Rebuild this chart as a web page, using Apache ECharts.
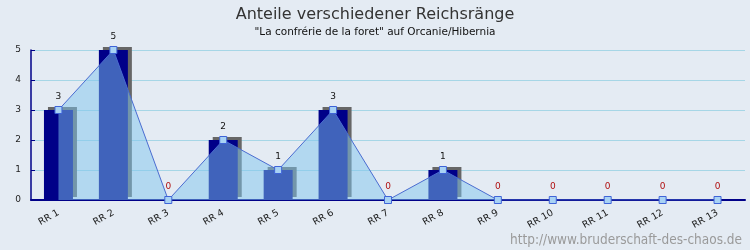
<!DOCTYPE html>
<html>
<head>
<meta charset="utf-8">
<script src="https://cdn.jsdelivr.net/npm/echarts@6/dist/echarts.min.js"></script>
<style>
  html, body { margin: 0; padding: 0; background: #e4ebf3; }
  #chart { width: 750px; height: 250px; }
</style>
</head>
<body>
<div id="chart"></div>
<script>
var titleText = 'Anteile verschiedener Reichsränge';
var subText = '"La confrérie de la foret" auf Orcanie/Hibernia';
var ranks = ['RR 1', 'RR 2', 'RR 3', 'RR 4', 'RR 5', 'RR 6', 'RR 7', 'RR 8', 'RR 9', 'RR 10', 'RR 11', 'RR 12', 'RR 13'];
var counts = [3, 5, 0, 2, 1, 3, 0, 1, 0, 0, 0, 0, 0];
var yTicks = { min: 0, max: 5, interval: 1 };
var siteUrl = 'http://www.bruderschaft-des-chaos.de';

(function() {
  var font = 'DejaVu Sans';
  var navy = '#000088';
  var lineData = counts.map(function(v) {
    return {
      value: v,
      label: { color: v === 0 ? '#b01010' : '#111' }
    };
  });

  var chart = echarts.init(document.getElementById('chart'), null, { renderer: 'canvas' });
  chart.setOption({
    animation: false,
    backgroundColor: '#e4ebf3',
    title: {
      text: titleText,
      subtext: subText,
      left: 'center',
      top: 2,
      itemGap: 4,
      textStyle: { fontFamily: font, fontSize: 16, fontWeight: 'normal', color: '#333' },
      subtextStyle: { fontFamily: font, fontSize: 10.5, color: '#111' }
    },
    graphic: [{
      type: 'text',
      right: 8,
      bottom: 3,
      style: { text: siteUrl, fill: '#9a9a9a', font: '13.5px "DejaVu Sans Condensed", "DejaVu Sans"' }
    }],
    grid: { left: 31, right: 5, top: 50, bottom: 50 },
    xAxis: {
      type: 'category',
      data: ranks,
      axisLine: { lineStyle: { color: navy, width: 2 } },
      axisTick: { inside: true, length: 5, lineStyle: { color: navy } },
      axisLabel: { rotate: 30, fontFamily: font, fontSize: 9.5, color: '#1a1a1a', margin: 12, interval: 0 },
      splitLine: { show: false }
    },
    yAxis: {
      type: 'value',
      min: yTicks.min,
      max: yTicks.max,
      interval: yTicks.interval,
      axisLine: { show: true, lineStyle: { color: navy, width: 1.5 } },
      axisTick: { show: true, inside: true, length: 4, lineStyle: { color: navy } },
      axisLabel: { fontFamily: font, fontSize: 9, color: '#222', margin: 10 },
      splitLine: { lineStyle: { color: '#a6d6e6', width: 1 } }
    },
    series: [{
      type: 'bar',
      data: counts,
      barWidth: 29,
      itemStyle: {
        color: navy,
        shadowColor: '#666666',
        shadowOffsetX: 4,
        shadowOffsetY: -3,
        shadowBlur: 0
      },
      z: 2
    }, {
      type: 'line',
      data: lineData,
      symbol: 'rect',
      symbolSize: 7,
      lineStyle: { color: '#4a6cd0', width: 1 },
      itemStyle: { color: '#a8d2f4', borderColor: '#3f64d8', borderWidth: 1 },
      areaStyle: { color: '#80c6ee', opacity: 0.5 },
      label: {
        show: true,
        position: 'top',
        distance: 5,
        fontFamily: font,
        fontSize: 9
      },
      z: 3
    }]
  });
})();
</script>
</body>
</html>
